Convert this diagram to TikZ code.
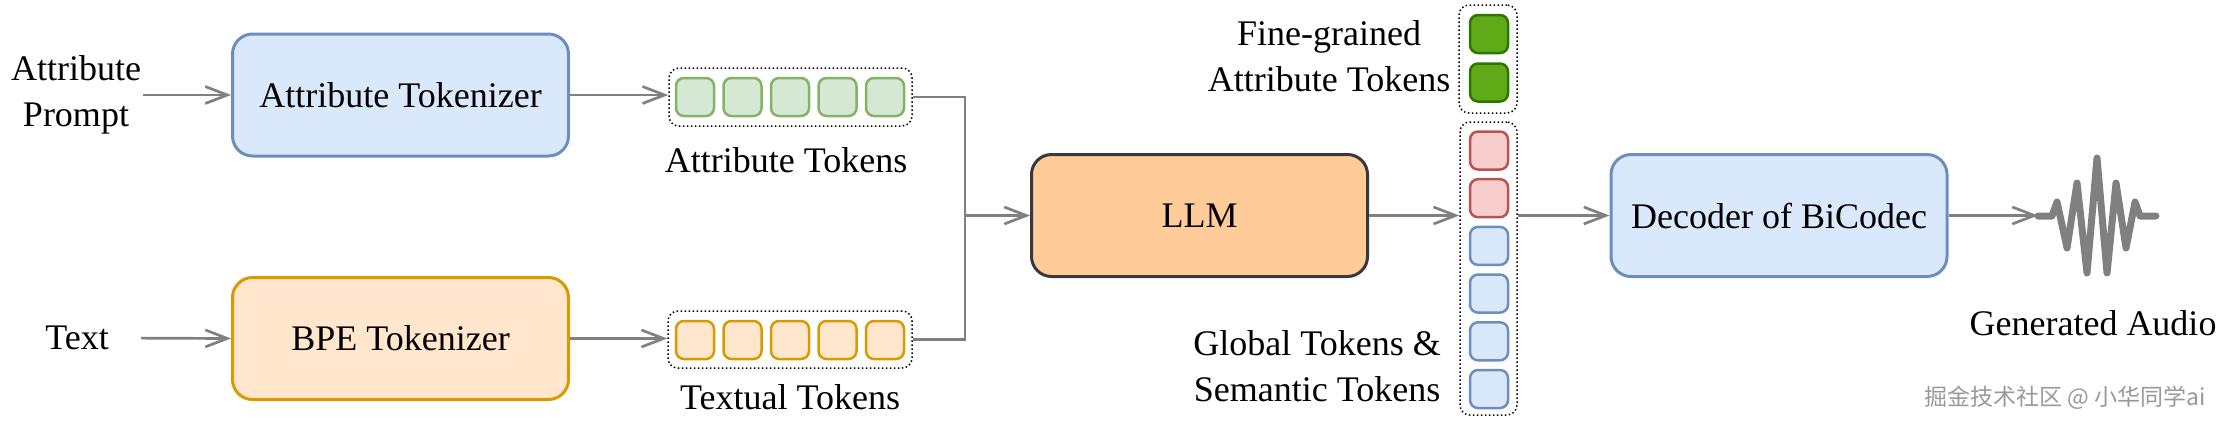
\documentclass[tikz,border=0pt]{standalone}
\usepackage{fontspec}
\setmainfont{Liberation Serif}
\newfontfamily\cjkfont{Noto Sans CJK SC}
\usetikzlibrary{arrows.meta}
\usetikzlibrary{positioning,calc}
\definecolor{blueFill}{HTML}{DAE8FC}
\definecolor{blueLine}{HTML}{6C8EBF}
\definecolor{orangeFill}{HTML}{FFE6CC}
\definecolor{orangeLine}{HTML}{D79B00}
\definecolor{llmFill}{HTML}{FFCC99}
\definecolor{llmLine}{HTML}{36393D}
\definecolor{greenFill}{HTML}{D5E8D4}
\definecolor{greenLine}{HTML}{82B366}
\definecolor{darkgreenFill}{HTML}{60A917}
\definecolor{darkgreenLine}{HTML}{2D7600}
\definecolor{redFill}{HTML}{F8CECC}
\definecolor{redLine}{HTML}{B85450}
\definecolor{arrowgray}{HTML}{808080}
\tikzstyle{block}=[rectangle,rounded corners=10pt,line width=1.5pt,minimum width=168pt,minimum height=61pt,inner sep=0pt,font=\fontsize{18}{23}\selectfont]
\tikzstyle{token}=[rectangle,rounded corners=4pt,line width=1.25pt,minimum size=19pt,inner sep=0pt]
\tikzstyle{tokgroup}=[rectangle,rounded corners=5pt,draw=black,line width=0.75pt,dash pattern=on 0.75pt off 1.25pt,inner sep=0pt]
\tikzstyle{txt}=[font=\fontsize{18}{23}\selectfont,align=center,inner sep=1pt]
\tikzstyle{flow}=[-{Straight Barb[length=11pt,width=8.5pt]},line width=1.35pt,color=arrowgray]

\begin{document}
\begin{tikzpicture}[x=0.5pt,y=-0.5pt]

  \useasboundingbox (0,0) rectangle (2236,429);

  % inputs and tokenizers
  \node[txt] (prompt) at (76,95) {Attribute\\Prompt};
  \node[txt] (text) at (77,338) {Text};
  \node[block,fill=blueFill,draw=blueLine] (atttok) at (400.5,95) {Attribute Tokenizer};
  \node[block,fill=orangeFill,draw=orangeLine] (bpe) at (400.5,338.5) {BPE Tokenizer};

  % token rows
  \node[tokgroup,minimum width=121.5pt,minimum height=29pt] (attgrp) at (790.5,97) {};
  \node[tokgroup,minimum width=122pt,minimum height=28.5pt] (txtgrp) at (790,339.5) {};
  \foreach \i in {0,...,4}
  {
    \node[token,fill=greenFill,draw=greenLine] (at\i) at (695+47.5*\i,97) {};
    \node[token,fill=orangeFill,draw=orangeLine] (tt\i) at (695+47.5*\i,340) {};
  }
  \node[txt] (attlbl) at (786,160) {Attribute Tokens};
  \node[txt] (txtlbl) at (790,397) {Textual Tokens};

  \node[block,fill=llmFill,draw=llmLine] (llm) at (1199.5,215.5) {LLM};
  \coordinate (jn) at (965,215.5);

  % output token columns
  \node[tokgroup,minimum width=29pt,minimum height=54pt] (finegrp) at (1488,59) {};
  \foreach \i in {0,1}
    \node[token,fill=darkgreenFill,draw=darkgreenLine] (ft\i) at (1489,34+48.5*\i) {};
  \node[tokgroup,minimum width=28.5pt,minimum height=146.5pt] (colgrp) at (1488.5,268.5) {};
  \foreach \i/\col in {0/red,1/red,2/blue,3/blue,4/blue,5/blue}
    \node[token,fill=\col Fill,draw=\col Line] (ct\i) at (1489,150.5+47.7*\i) {};
  \node[txt] (finelbl) at (1329,56.5) {Fine-grained\\Attribute Tokens};
  \node[txt] (globlbl) at (1317,366.5) {Global Tokens \&\\Semantic Tokens};

  \node[block,fill=blueFill,draw=blueLine] (dec) at (1779,215.5) {Decoder of BiCodec};
  \coordinate (wave) at (2038,216);
  \node[txt] (audio) at (2093,323) {Generated Audio};

  \draw[flow] (prompt.east) -- (atttok.west);
  \draw[flow,shorten <=15pt] (text.east) -- (bpe.west);
  \draw[flow] (atttok.east) -- (atttok.east -| attgrp.west);
  \draw[flow] (bpe.east) -- (bpe.east -| txtgrp.west);
  \draw[line width=1.35pt,arrowgray] (attgrp.east) -| (jn) |- (txtgrp.east);
  \draw[flow] (jn) -- (llm.west);
  \draw[flow] (llm.east) -- (llm.east -| colgrp.west);
  \draw[flow] (colgrp.east |- dec.west) -- (dec.west);
  \draw[flow] (dec.east) -- (dec.east -| wave);

  % waveform
  \draw[arrowgray,line width=3.5pt,line cap=round,line join=round]
    (wave) -- (2052,216) -- (2057,202) -- (2067,248) -- (2077,183) -- (2087,273)
    -- (2097,158) -- (2107,273) -- (2116,183) -- (2126,248) -- (2135,202)
    -- (2140,216) -- (2156,216);

  \node[font=\cjkfont\fontsize{11.5}{14}\selectfont,text=black!40,inner sep=0pt] (mark) at (2065,398) {掘金技术社区 @ 小华同学ai};

\end{tikzpicture}
\end{document}
